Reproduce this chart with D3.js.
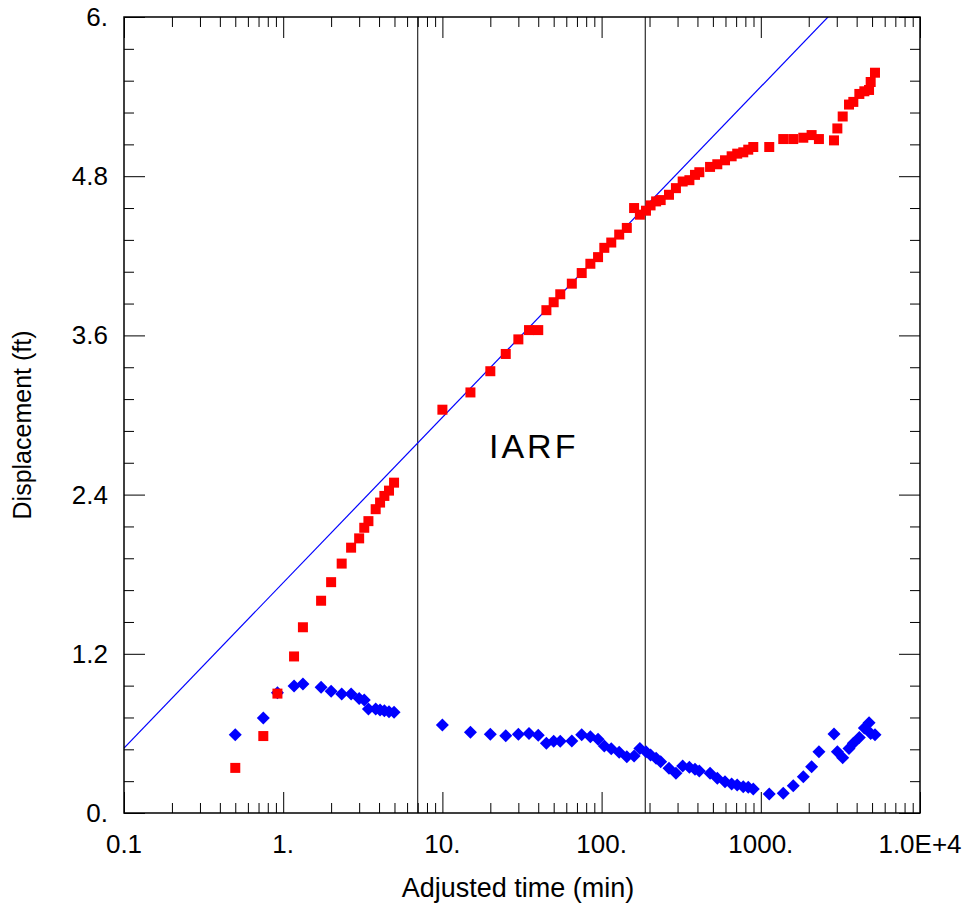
<!DOCTYPE html>
<html><head><meta charset="utf-8">
<script src="https://cdn.jsdelivr.net/npm/d3@7"></script>
<style>body{margin:0;background:#fff}svg{display:block}text{font-family:Arial,"Liberation Sans",sans-serif;fill:#000}</style>
</head><body><svg id="c" width="965" height="907"></svg>
<script>
// Adjusted time (min)
const times = [0.5,0.75,0.92,1.17,1.33,1.73,2.0,2.33,2.67,3.0,3.23,3.43,3.81,4.06,4.32,4.62,4.97,
  10,15,20,25,30,35,40,45,50,55,65,75,85,95,104,115,129,144,160,174,190,203,220,235,265,293,323,356,386,411,480,533,596,656,711,776,834,897,
  1130,1384,1599,1849,2085,2318,2882,3026,3269,3582,3812,4159,4471,4786,4900,5215];
// Displacement (ft)
const displacement = [0.34,0.58,0.90,1.18,1.40,1.60,1.74,1.88,2.00,2.07,2.15,2.20,2.29,2.34,2.39,2.43,2.49,
  3.04,3.17,3.33,3.46,3.57,3.64,3.64,3.79,3.85,3.91,3.99,4.07,4.14,4.19,4.26,4.30,4.36,4.41,4.56,4.51,4.54,4.58,4.61,4.62,4.66,4.71,4.76,4.77,4.81,4.83,4.87,4.89,4.92,4.95,4.97,4.98,5.00,5.02,
  5.02,5.08,5.08,5.09,5.11,5.08,5.07,5.16,5.25,5.34,5.36,5.42,5.44,5.45,5.51,5.58];
// Derivative
const derivative = [0.59,0.716,0.907,0.957,0.972,0.947,0.917,0.897,0.897,0.864,0.852,0.784,0.784,0.776,0.771,0.764,0.759,
  0.663,0.608,0.593,0.583,0.593,0.60,0.586,0.525,0.54,0.54,0.543,0.59,0.575,0.556,0.505,0.485,0.457,0.424,0.43,0.487,0.462,0.437,0.412,0.387,0.337,0.30,0.354,0.344,0.329,0.317,0.30,0.262,0.236,0.219,0.211,0.198,0.194,0.181,
  0.143,0.148,0.206,0.274,0.349,0.462,0.595,0.462,0.417,0.487,0.525,0.57,0.64,0.68,0.60,0.59];
// IARF straight line: displacement = intercept + slope*log10(t)
const iarfLine = {slope: 1.246, intercept: 1.736};
const iarfBounds = [7.0, 188];
const xTickLabels = ["0.1","1.","10.","100.","1000.","1.0E+4"];
const xTickValues = [0.1,1,10,100,1000,10000];
const yTickLabels = ["0.","1.2","2.4","3.6","4.8","6."];
const yTickValues = [0,1.2,2.4,3.6,4.8,6];

const L=124,R=920,T=17,B=813;
const svg=d3.select("#c");
const x=d3.scaleLog().domain([0.1,10000]).range([L,R]);
const y=d3.scaleLinear().domain([0,6]).range([B,T]);

svg.append("defs").append("clipPath").attr("id","clip").append("rect")
  .attr("x",L).attr("y",T).attr("width",R-L).attr("height",B-T);

const xMinor=[];
for(let e=-1;e<4;e++)for(let k=2;k<=9;k++)xMinor.push(k*Math.pow(10,e));
const yMinor=d3.range(0,6.0001,0.24).filter(v=>Math.abs(v/1.2-Math.round(v/1.2))>1e-6);

function tickAxis(axisGen,transform){
  svg.append("g").attr("transform",transform).call(axisGen)
   .call(g=>{g.select(".domain").remove();g.selectAll("line").attr("stroke","#000").attr("stroke-width",1);});
}
tickAxis(d3.axisBottom(x).tickValues(xMinor).tickSize(-10).tickFormat(""),`translate(0,${B})`);
tickAxis(d3.axisBottom(x).tickValues(xTickValues).tickSize(-21).tickFormat(""),`translate(0,${B})`);
tickAxis(d3.axisTop(x).tickValues(xMinor).tickSize(-10).tickFormat(""),`translate(0,${T})`);
tickAxis(d3.axisTop(x).tickValues(xTickValues).tickSize(-21).tickFormat(""),`translate(0,${T})`);
tickAxis(d3.axisLeft(y).tickValues(yMinor).tickSize(-10).tickFormat(""),`translate(${L},0)`);
tickAxis(d3.axisLeft(y).tickValues(yTickValues).tickSize(-21).tickFormat(""),`translate(${L},0)`);
tickAxis(d3.axisRight(y).tickValues(yMinor).tickSize(-10).tickFormat(""),`translate(${R},0)`);
tickAxis(d3.axisRight(y).tickValues(yTickValues).tickSize(-21).tickFormat(""),`translate(${R},0)`);

svg.append("g").selectAll("text").data(xTickValues).join("text")
  .attr("x",d=>x(d)).attr("y",B+40).attr("text-anchor","middle").attr("font-size",26)
  .text((d,i)=>xTickLabels[i]);
svg.append("g").selectAll("text").data(yTickValues).join("text")
  .attr("x",L-16).attr("y",d=>y(d)+9).attr("text-anchor","end").attr("font-size",26)
  .text((d,i)=>yTickLabels[i]);

svg.append("text").attr("x",518).attr("y",897).attr("text-anchor","middle").attr("font-size",27).text("Adjusted time (min)");
svg.append("text").attr("transform",`translate(31,425) rotate(-90)`).attr("text-anchor","middle").attr("font-size",25).text("Displacement (ft)");

const plot=svg.append("g").attr("clip-path","url(#clip)");
plot.selectAll("line.vb").data(iarfBounds).join("line").attr("class","vb")
  .attr("x1",d=>x(d)).attr("x2",d=>x(d)).attr("y1",T).attr("y2",B).attr("stroke","#000").attr("stroke-width",1);
const lx=x.domain();
plot.append("line").attr("x1",x(lx[0])).attr("y1",y(iarfLine.intercept+iarfLine.slope*Math.log10(lx[0])))
  .attr("x2",x(lx[1])).attr("y2",y(iarfLine.intercept+iarfLine.slope*Math.log10(lx[1])))
  .attr("stroke","#0000ff").attr("stroke-width",1.2);

plot.append("g").selectAll("path").data(times).join("path")
  .attr("d",(d,i)=>{const cx=x(d),cy=y(derivative[i]),r=6.5;return `M${cx},${cy-r}L${cx+r},${cy}L${cx},${cy+r}L${cx-r},${cy}Z`;})
  .attr("fill","#0000ff");
plot.append("g").selectAll("rect").data(times).join("rect")
  .attr("x",d=>x(d)-5).attr("y",(d,i)=>y(displacement[i])-5).attr("width",10).attr("height",10)
  .attr("fill","#ff0000");

svg.append("text").attr("x",489).attr("y",458).attr("font-size",34).attr("letter-spacing",3).text("IARF");

svg.append("rect").attr("x",L).attr("y",T).attr("width",R-L).attr("height",B-T)
  .attr("fill","none").attr("stroke","#000").attr("stroke-width",1.5);
</script></body></html>
